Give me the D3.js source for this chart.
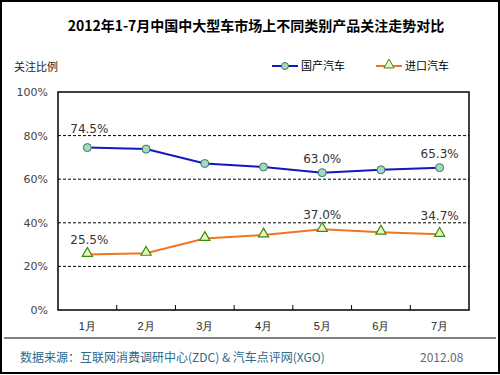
<!DOCTYPE html>
<html>
<head>
<meta charset="utf-8">
<script src="https://cdn.jsdelivr.net/npm/d3@7"></script>
<style>
  body { margin: 0; background: #fff; }
  svg { display: block; font-family: "Noto Sans CJK SC", "DejaVu Sans", sans-serif; }
</style>
</head>
<body>
<svg id="chart" width="500" height="375"></svg>
<script>
// chart data
const months = ['1月', '2月', '3月', '4月', '5月', '6月', '7月'];
const domestic = [74.5, 73.8, 67.2, 65.6, 63.0, 64.3, 65.3];
const imported = [25.5, 26.0, 32.8, 34.4, 37.0, 35.7, 34.7];
const yTicks = [0, 20, 40, 60, 80, 100];
// which points get a value label
const domesticLabels = [0, 4, 6];
const importedLabels = [0, 4, 6];

const svg = d3.select('#chart');
const margin = { left: 58, right: 31, top: 92, bottom: 65 };
const width = 500, height = 375;

// outer frame
svg.append('rect')
  .attr('x', 1).attr('y', 1)
  .attr('width', width - 2).attr('height', height - 3)
  .style('fill', 'none').style('stroke', '#000').style('stroke-width', 2);

// title
svg.append('text')
  .attr('x', 256).attr('y', 31)
  .attr('text-anchor', 'middle')
  .style('font-size', '14px').style('font-weight', 'bold')
  .text('2012年1-7月中国中大型车市场上不同类别产品关注走势对比');

svg.append('text')
  .attr('x', 14).attr('y', 71)
  .style('font-size', '11px').style('fill', '#222')
  .text('关注比例');

const x = d3.scaleBand()
  .domain(months)
  .range([margin.left, width - margin.right]);

const y = d3.scaleLinear()
  .domain([0, 100])
  .range([height - margin.bottom, margin.top]);

const gridValues = yTicks.filter(d => d > 0 && d < 100);

// gridlines
svg.append('g').selectAll('line')
  .data(gridValues)
  .enter().append('line')
  .attr('x1', margin.left).attr('x2', width - margin.right)
  .attr('y1', d => y(d)).attr('y2', d => y(d))
  .style('stroke', '#000').style('stroke-width', 1)
  .style('stroke-dasharray', '3,2');

// plot border
svg.append('rect')
  .attr('x', margin.left).attr('y', margin.top)
  .attr('width', width - margin.left - margin.right)
  .attr('height', height - margin.top - margin.bottom)
  .style('fill', 'none').style('stroke', '#000').style('stroke-width', 1.5);

// y axis labels
const yAxis = d3.axisLeft(y).tickValues(yTicks).tickFormat(d => d + '%').tickSize(0).tickPadding(10);
const gy = svg.append('g').attr('transform', `translate(${margin.left},0)`).call(yAxis);
gy.select('.domain').remove();
gy.selectAll('text').style('font-size', '11px').style('fill', '#444')
  .style('font-family', '"DejaVu Sans", sans-serif');

// x axis: labels and small inward ticks at band boundaries
const gx = svg.append('g').attr('transform', `translate(0,${y(0)})`)
  .call(d3.axisBottom(x).tickSize(0).tickPadding(12));
gx.select('.domain').remove();
gx.selectAll('text').style('font-size', '11px').style('fill', '#222');

svg.append('g').selectAll('line')
  .data(months.slice(1))
  .enter().append('line')
  .attr('x1', d => x(d)).attr('x2', d => x(d))
  .attr('y1', y(0)).attr('y2', y(0) - 5)
  .style('stroke', '#000');

const cx = (d, i) => x(months[i]) + x.bandwidth() / 2;
const line = d3.line().x(cx).y(d => y(d));

// domestic series
svg.append('path').datum(domestic)
  .attr('d', line)
  .style('fill', 'none').style('stroke', '#1515c8').style('stroke-width', 2);
svg.append('g').selectAll('circle')
  .data(domestic).enter().append('circle')
  .attr('cx', cx).attr('cy', d => y(d)).attr('r', 4)
  .style('fill', '#a9d6c6').style('stroke', '#2e7d4a').style('stroke-width', 1);

// imported series
const tri = d3.symbol().type(d3.symbolTriangle).size(45);
svg.append('path').datum(imported)
  .attr('d', line)
  .style('fill', 'none').style('stroke', '#f07522').style('stroke-width', 2);
svg.append('g').selectAll('path')
  .data(imported).enter().append('path')
  .attr('d', tri)
  .attr('transform', (d, i) => `translate(${cx(d, i)},${y(d) - 1})`)
  .style('fill', '#e8f5c0').style('stroke', '#3a8a10').style('stroke-width', 1.2);

// value labels sit above the point, and above any gridline they would cross
function labelY(v) {
  let base = y(v) - 10;
  gridValues.forEach(g => {
    const gy = y(g);
    if (gy > base - 10 && gy < base + 2) base = gy - 3;
  });
  return base;
}
function addLabels(values, idx) {
  svg.append('g').selectAll('text')
    .data(idx).enter().append('text')
    .attr('x', i => cx(values[i], i) + (i === 0 ? 2 : 0))
    .attr('y', i => labelY(values[i]))
    .attr('text-anchor', 'middle')
    .style('font-size', '12px').style('fill', '#333')
    .style('font-family', '"DejaVu Sans", sans-serif')
    .text(i => values[i].toFixed(1) + '%');
}
addLabels(domestic, domesticLabels);
addLabels(imported, importedLabels);

// legend
const legend = svg.append('g');
legend.append('line').attr('x1', 272).attr('x2', 298).attr('y1', 66).attr('y2', 66)
  .style('stroke', '#1515c8').style('stroke-width', 2);
legend.append('circle').attr('cx', 285).attr('cy', 66).attr('r', 3.5)
  .style('fill', '#a9d6c6').style('stroke', '#2e7d4a');
legend.append('text').attr('x', 301).attr('y', 70).style('font-size', '11px').text('国产汽车');
legend.append('line').attr('x1', 376).attr('x2', 402).attr('y1', 66).attr('y2', 66)
  .style('stroke', '#f07522').style('stroke-width', 2);
legend.append('path').attr('d', tri).attr('transform', 'translate(389,65)')
  .style('fill', '#e8f5c0').style('stroke', '#3a8a10');
legend.append('text').attr('x', 405).attr('y', 70).style('font-size', '11px').text('进口汽车');

// footer
svg.append('line')
  .attr('x1', 4).attr('x2', 496).attr('y1', 338).attr('y2', 338)
  .style('stroke', '#000').style('stroke-width', 1);
svg.append('text')
  .attr('x', 20).attr('y', 362)
  .style('font-size', '12px').style('fill', '#2b6a8a')
  .text('数据来源：互联网消费调研中心(ZDC) & 汽车点评网(XGO)');
svg.append('text')
  .attr('x', 420).attr('y', 362)
  .style('font-size', '12px').style('fill', '#667')
  .text('2012.08');
</script>
</body>
</html>
